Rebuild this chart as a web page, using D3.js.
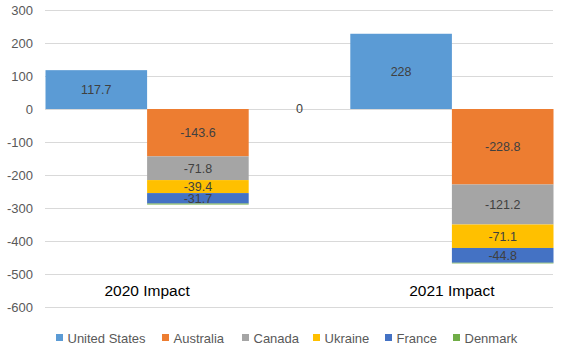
<!DOCTYPE html>
<html><head><meta charset="utf-8">
<script src="https://cdn.jsdelivr.net/npm/d3@7"></script>
<style>body{margin:0;background:#fff}svg{display:block}text{font-family:"Liberation Sans",Arial,sans-serif}</style>
</head><body>
<script>
const slots = ["us2020","neg2020","mid","us2021","neg2021"];
const categoryLabels = ["2020 Impact","2021 Impact"];
const categoryPairs = [["us2020","neg2020"],["us2021","neg2021"]];
const seriesNames = ["United States","Australia","Canada","Ukraine","France","Denmark"];
const colors = ["#5B9BD5","#ED7D31","#A5A5A5","#FFC000","#4472C4","#70AD47"];
// values per slot for each series
const unitedStates = [117.7, 0, 0, 228, 0];
const australia    = [0, -143.6, 0, 0, -228.8];
const canada       = [0, -71.8, 0, 0, -121.2];
const ukraine      = [0, -39.4, 0, 0, -71.1];
const france       = [0, -31.7, 0, 0, -44.8];
const denmark      = [0, -3, 0, 0, -2];
const midLabel = [0];
const yTicks = [300,200,100,0,-100,-200,-300,-400,-500,-600];

const W=562,H=350;
const svg=d3.select("body").append("svg").attr("width",W).attr("height",H);
const x=d3.scaleBand().domain(slots).range([45.5,553.5]).padding(0);
const y=d3.scaleLinear().domain([-600,300]).range([307,10]);

// gridlines
svg.append("g").selectAll("line").data(yTicks).join("line")
 .attr("x1",45).attr("x2",553).attr("y1",d=>Math.round(y(d))+0.5).attr("y2",d=>Math.round(y(d))+0.5)
 .attr("stroke","#D9D9D9").attr("stroke-width",1);
// y tick labels
svg.append("g").selectAll("text").data(yTicks).join("text")
 .attr("x",33).attr("y",d=>y(d)).attr("dy","0.35em").attr("text-anchor","end")
 .attr("font-size",13).attr("fill","#595959").text(d=>d);

const allSeries=[unitedStates,australia,canada,ukraine,france,denmark];
const rows=slots.map((s,i)=>{const o={slot:s};seriesNames.forEach((n,j)=>o[n]=allSeries[j][i]);return o;});
const stack=d3.stack().keys(seriesNames).offset(d3.stackOffsetDiverging)(rows);

const g=svg.append("g");
stack.forEach((layer,j)=>{
  layer.forEach(d=>{
    const v=d[1]-d[0];
    if(v===0) return;
    const y0=y(d[0]), y1=y(d[1]);
    g.append("rect").attr("x",x(d.data.slot)).attr("width",x.bandwidth())
      .attr("y",Math.min(y0,y1)).attr("height",Math.abs(y1-y0)).attr("fill",colors[j]);
  });
});
stack.forEach((layer,j)=>{
  if(seriesNames[j]==="Denmark") return;
  layer.forEach(d=>{
    const v=d[1]-d[0];
    if(v===0) return;
    const val=allSeries[j][slots.indexOf(d.data.slot)];
    g.append("text").attr("x",x(d.data.slot)+x.bandwidth()/2).attr("y",(y(d[0])+y(d[1]))/2)
      .attr("dy","0.35em").attr("text-anchor","middle").attr("font-size",12.5).attr("fill","#404040").text(val);
  });
});
// middle zero label
svg.append("text").attr("x",x("mid")+x.bandwidth()/2).attr("y",y(midLabel[0])).attr("dy","0.35em")
 .attr("text-anchor","middle").attr("font-size",12.5).attr("fill","#404040").text(midLabel[0]);

// category labels
categoryLabels.forEach((c,i)=>{
  const [a,b]=categoryPairs[i];
  const cx=(x(a)+x(b)+x.bandwidth())/2;
  svg.append("text").attr("x",cx).attr("y",291).attr("dy","0.35em").attr("text-anchor","middle")
   .attr("font-size",15.5).attr("fill","#000").text(c);
});

// legend
const legX=[56,162,242,313,385,453];
const lg=svg.append("g");
seriesNames.forEach((n,i)=>{
  lg.append("rect").attr("x",legX[i]).attr("y",334).attr("width",7).attr("height",7).attr("fill",colors[i]);
  lg.append("text").attr("x",legX[i]+11.5).attr("y",338).attr("dy","0.35em").attr("font-size",13).attr("fill","#595959").text(n);
});
</script>
</body></html>
